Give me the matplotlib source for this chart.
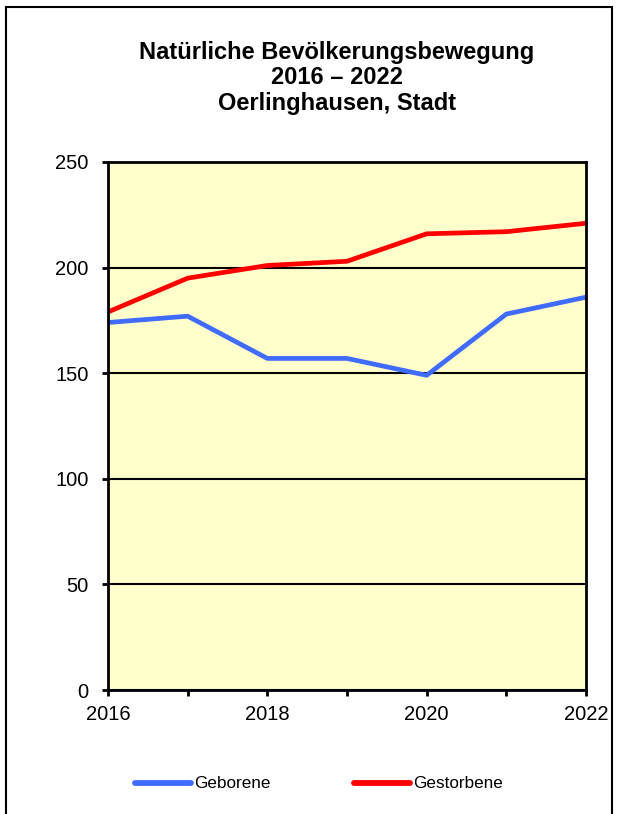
import matplotlib
matplotlib.use("Agg")
import matplotlib.pyplot as plt
from matplotlib.patches import Rectangle

years = [2016, 2017, 2018, 2019, 2020, 2021, 2022]
geborene = [174, 177, 157, 157, 149, 178, 186]
gestorbene = [179, 195, 201, 203, 216, 217, 221]
title = "Natürliche Bevölkerungsbewegung\n2016 – 2022\nOerlinghausen, Stadt"
yticks = [0, 50, 100, 150, 200, 250]
xticks_major = [2016, 2018, 2020, 2022]

plt.rcParams['font.family'] = ['Liberation Sans', 'DejaVu Sans']

W, H = 621, 814
fig = plt.figure(figsize=(W / 100, H / 100), dpi=100)
fig.patch.set_facecolor("white")

# outer frame
fig.patches.append(Rectangle((6 / W, -0.01), (612 - 6) / W, 1 - 7 / H + 0.01,
                             transform=fig.transFigure, fill=False,
                             edgecolor="black", linewidth=1.5))

ax = fig.add_axes([108 / W, 1 - 690 / H, (586 - 108) / W, (690 - 162) / H])
ax.set_facecolor("#FFFFCC")

blue = "#3F6BFF"
red = "#FF0000"
l1, = ax.plot(years, geborene, color=blue, lw=3.4, label="Geborene", solid_capstyle="round")
l2, = ax.plot(years, gestorbene, color=red, lw=3.4, label="Gestorbene", solid_capstyle="round")

ax.set_xlim(2016, 2022)
ax.set_ylim(0, 250)
ax.set_yticks(yticks)
ax.set_xticks(years, minor=False)
ax.set_xticklabels([str(y) if y in xticks_major else "" for y in years])
ax.grid(axis="y", color="black", lw=1.5)
ax.set_axisbelow(True)
for s in ax.spines.values():
    s.set_linewidth(2)
    s.set_color("black")
ax.tick_params(axis="both", direction="out", length=4.5, width=2, labelsize=14.5, colors="black")
ax.tick_params(axis="x", pad=6.5)
ax.tick_params(axis="y", pad=9.5)

fig.text(337 / W, 1 - 78 / H, title, ha="center", va="center", fontsize=17,
         fontweight="bold", linespacing=1.15)

leg = fig.legend(handles=[l1, l2], loc="center", bbox_to_anchor=(319 / W, 1 - 784 / H),
                 ncol=2, frameon=False, fontsize=12.3, handlelength=3.25, handletextpad=0.2,
                 columnspacing=4.9, borderpad=0, borderaxespad=0)
for h in leg.get_lines():
    h.set_linewidth(4.2)
    h.set_solid_capstyle("round")

fig.savefig("out.png", dpi=100)
